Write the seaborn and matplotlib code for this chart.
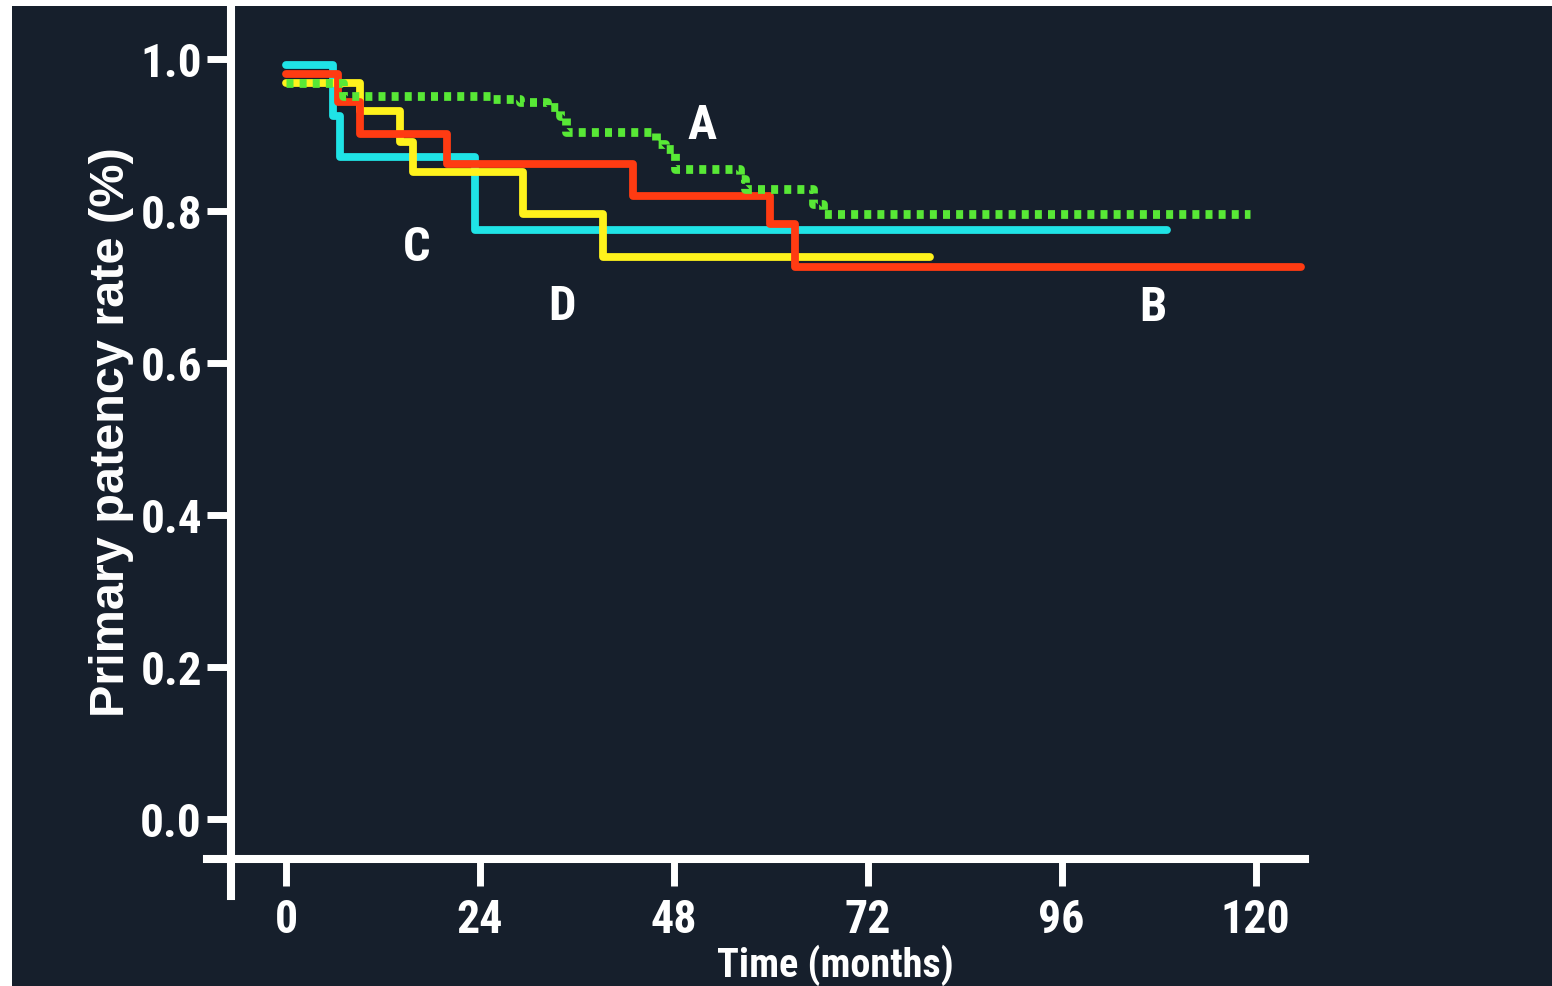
import numpy as np
import pandas as pd
import matplotlib
matplotlib.use("Agg")
import matplotlib.pyplot as plt
from matplotlib import font_manager
from matplotlib.patches import Rectangle
import seaborn as sns

# ---------------- data (Kaplan-Meier style step curves) ----------------
time_a = [0, 7.05, 25.6, 29.0, 32.3, 33.9, 34.7, 45.8, 46.9, 48.1, 56.2, 56.8, 65.2, 66.5, 119.3]
surv_a = [0.968, 0.951, 0.947, 0.943, 0.936, 0.924, 0.903, 0.888, 0.881, 0.855, 0.842, 0.828, 0.809, 0.796, 0.796]

time_b = [0, 6.4, 9.2, 19.9, 42.9, 59.9, 63.0, 125.6]
surv_b = [0.980, 0.943, 0.901, 0.861, 0.819, 0.782, 0.726, 0.726]

time_c = [0, 5.8, 6.7, 23.4, 109.0]
surv_c = [0.992, 0.924, 0.870, 0.775, 0.775]

time_d = [0, 9.2, 14.1, 15.7, 29.3, 39.2, 79.7]
surv_d = [0.968, 0.931, 0.890, 0.851, 0.796, 0.739, 0.739]

group_names = ["A", "B", "C", "D"]
label_x = [51.5, 107.3, 16.2, 34.2]
label_y = [0.913, 0.673, 0.752, 0.675]

x_ticks = [0, 24, 48, 72, 96, 120]
y_ticks = [0.0, 0.2, 0.4, 0.6, 0.8, 1.0]
y_ticklabels = ["0.0", "0.2", "0.4", "0.6", "0.8", "1.0"]

x_label = "Time (months)"
y_label = "Primary patency rate (%)"

# ---------------- style ----------------
BG = "#161f2c"
C_A = "#58e836"
C_B = "#ff3b12"
C_C = "#1fe3e6"
C_D = "#fff21c"

sns.set_style("ticks")

# look for a narrow / condensed bold face; fall back to Liberation Sans
narrow_family, narrow_stretch = None, "normal"
for f in font_manager.fontManager.ttflist:
    nm = f.name.lower()
    fn = f.fname.lower()
    if ("narrow" in nm or "narrow" in fn or "condensed" in nm or "condensed" in fn
            or str(f.stretch) in ("condensed", "semi-condensed", "extra-condensed")):
        if "mono" in nm or "serif" in nm and "sans" not in nm:
            continue
        narrow_family, narrow_stretch = f.name, f.stretch
        if "liberation" in nm or "roboto" in nm:
            break

if narrow_family is not None and narrow_family != "DejaVu Sans":
    fam = [narrow_family, "DejaVu Sans"]
    stretch = narrow_stretch
    ytick_fs, xtick_fs, xl_fs, let_fs = 34, 33, 29, 35
else:
    fam = ["Liberation Sans", "DejaVu Sans"]
    stretch = "normal"
    ytick_fs, xtick_fs, xl_fs, let_fs = 31, 30, 27, 32
plt.rcParams["font.family"] = fam

W, H = 1552, 987
fig = plt.figure(figsize=(W / 100, H / 100), dpi=100)
fig.patch.set_facecolor("white")
fig.add_artist(Rectangle((12 / W, 0), (W - 12) / W, (H - 7) / H,
                         transform=fig.transFigure, facecolor=BG,
                         edgecolor="none", zorder=-10))

ax = fig.add_axes([0, 0, 1, 1])
ax.set_facecolor("none")

# pixel mapping: x px = 286 + 8.08*month ; y px(from top) = 820 - 760.5*value
ax.set_xlim((0 - 286) / 8.08, (W - 286) / 8.08)
ax.set_ylim((820 - H) / 760.5, 820 / 760.5)

lw = 5.6
df_c = pd.DataFrame({"t": time_c, "s": surv_c})
df_d = pd.DataFrame({"t": time_d, "s": surv_d})
df_b = pd.DataFrame({"t": time_b, "s": surv_b})
df_a = pd.DataFrame({"t": time_a, "s": surv_a})

sns.lineplot(data=df_c, x="t", y="s", ax=ax, color=C_C, lw=lw,
             drawstyle="steps-post", estimator=None, sort=False, zorder=3)
sns.lineplot(data=df_d, x="t", y="s", ax=ax, color=C_D, lw=lw,
             drawstyle="steps-post", estimator=None, sort=False, zorder=4)
sns.lineplot(data=df_b, x="t", y="s", ax=ax, color=C_B, lw=lw,
             drawstyle="steps-post", estimator=None, sort=False, zorder=5)
sns.lineplot(data=df_a, x="t", y="s", ax=ax, color=C_A, lw=6.3,
             drawstyle="steps-post", estimator=None, sort=False, zorder=6,
             linestyle=(0, (0.8, 0.7)))

for name, lx, ly in zip(group_names, label_x, label_y):
    ax.text(lx, ly, name, color="white", fontsize=let_fs, fontweight="bold",
            fontstretch=stretch, ha="center", va="center", zorder=7)

# spines
for s in ["top", "right"]:
    ax.spines[s].set_visible(False)
ax.spines["left"].set_position(("data", (231 - 286) / 8.08))
ax.spines["left"].set_bounds((820 - 897) / 760.5, (820 - 7) / 760.5)
ax.spines["bottom"].set_position(("data", (820 - 860) / 760.5))
ax.spines["bottom"].set_bounds((207 - 286) / 8.08, (1305 - 286) / 8.08)
for s in ["left", "bottom"]:
    ax.spines[s].set_color("white")
    ax.spines[s].set_linewidth(5.8)
    ax.spines[s].set_zorder(2)

ax.set_xticks(x_ticks)
ax.set_xticklabels([str(v) for v in x_ticks])
ax.set_yticks(y_ticks)
ax.set_yticklabels(y_ticklabels)
ax.tick_params(axis="y", direction="out", length=17.3, width=5, color="white",
               labelcolor="white", labelsize=ytick_fs, pad=3.6)
ax.tick_params(axis="x", direction="out", length=19.4, width=5, color="white",
               labelcolor="white", labelsize=xtick_fs, pad=8)
for lab in ax.get_xticklabels() + ax.get_yticklabels():
    lab.set_fontweight("bold")
    lab.set_fontstretch(stretch)

ax.set_xlabel(x_label, color="white", fontsize=xl_fs, fontweight="bold",
              fontstretch=stretch, va="bottom")
ax.xaxis.set_label_coords(835 / W, (H - 986) / H)
ax.set_ylabel(y_label, color="white", fontsize=35, fontweight="bold",
              va="center", family=["Liberation Sans", "DejaVu Sans"])
ax.yaxis.set_label_coords(111 / W, (H - 432) / H)

fig.savefig("out.png", dpi=100, facecolor=fig.get_facecolor())
